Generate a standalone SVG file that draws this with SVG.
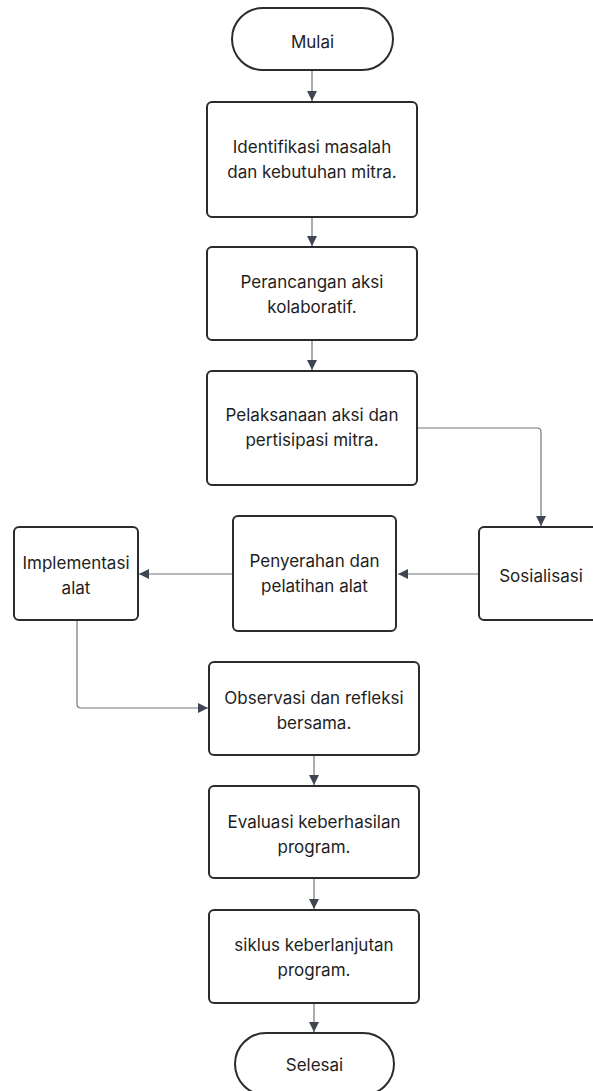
<svg xmlns="http://www.w3.org/2000/svg" width="593" height="1091" viewBox="0 0 593 1091">
<style>
.box{fill:#ffffff;stroke:#2b2b2b;stroke-width:2}
.t{font-family:Inter,"Liberation Sans",sans-serif;font-size:17px;fill:#1e1e1e;text-anchor:middle}
.c{fill:none;stroke:#70757d;stroke-width:1.2}
</style>
<defs>
<marker id="ah" viewBox="0 0 10 10" refX="10" refY="5" markerWidth="10" markerHeight="10" markerUnits="userSpaceOnUse" orient="auto">
<path d="M0,0 L10,5 L0,10 z" fill="#3f4651"/>
</marker>
</defs>
<rect width="593" height="1091" fill="#ffffff"/>
<g id="connectors">
<path class="c" d="M312,70 V101" marker-end="url(#ah)"/>
<path class="c" d="M312,217 V246" marker-end="url(#ah)"/>
<path class="c" d="M312,340 V370" marker-end="url(#ah)"/>
<path class="c" d="M417,428 H537 Q541,428 541,432 V526" marker-end="url(#ah)"/>
<path class="c" d="M479,574 H398" marker-end="url(#ah)"/>
<path class="c" d="M233,574 H139" marker-end="url(#ah)"/>
<path class="c" d="M77,620 V704 Q77,708 81,708 H208" marker-end="url(#ah)"/>
<path class="c" d="M314,755 V785" marker-end="url(#ah)"/>
<path class="c" d="M314,878 V909" marker-end="url(#ah)"/>
<path class="c" d="M314,1003 V1032" marker-end="url(#ah)"/>
</g>
<g id="mulai">
<rect class="box" x="232" y="8" width="161" height="62" rx="31"/>
<text class="t" x="312.5" y="48">Mulai</text>
</g>
<g id="identifikasi">
<rect class="box" x="207" y="102" width="210" height="115" rx="5"/>
<text class="t" x="312" y="153">Identifikasi masalah</text>
<text class="t" x="312" y="178">dan kebutuhan mitra.</text>
</g>
<g id="perancangan">
<rect class="box" x="207" y="247" width="210" height="93" rx="5"/>
<text class="t" x="312" y="288">Perancangan aksi</text>
<text class="t" x="312" y="313">kolaboratif.</text>
</g>
<g id="pelaksanaan">
<rect class="box" x="207" y="371" width="210" height="114" rx="5"/>
<text class="t" x="312" y="421">Pelaksanaan aksi dan</text>
<text class="t" x="312" y="446">pertisipasi mitra.</text>
</g>
<g id="sosialisasi">
<rect class="box" x="479" y="527" width="125" height="93" rx="5"/>
<text class="t" x="541" y="582">Sosialisasi</text>
</g>
<g id="penyerahan">
<rect class="box" x="233" y="516" width="163" height="115" rx="5"/>
<text class="t" x="314.5" y="567">Penyerahan dan</text>
<text class="t" x="314.5" y="592">pelatihan alat</text>
</g>
<g id="implementasi">
<rect class="box" x="14" y="527" width="124" height="93" rx="5"/>
<text class="t" x="76" y="569">Implementasi</text>
<text class="t" x="76" y="594">alat</text>
</g>
<g id="observasi">
<rect class="box" x="209" y="662" width="210" height="93" rx="5"/>
<text class="t" x="314" y="704">Observasi dan refleksi</text>
<text class="t" x="314" y="729">bersama.</text>
</g>
<g id="evaluasi">
<rect class="box" x="209" y="786" width="210" height="92" rx="5"/>
<text class="t" x="314" y="828">Evaluasi keberhasilan</text>
<text class="t" x="314" y="853">program.</text>
</g>
<g id="siklus">
<rect class="box" x="209" y="910" width="210" height="93" rx="5"/>
<text class="t" x="314" y="951">siklus keberlanjutan</text>
<text class="t" x="314" y="976">program.</text>
</g>
<g id="selesai">
<rect class="box" x="235" y="1033" width="159" height="62" rx="31"/>
<text class="t" x="314.5" y="1071">Selesai</text>
</g>
</svg>
